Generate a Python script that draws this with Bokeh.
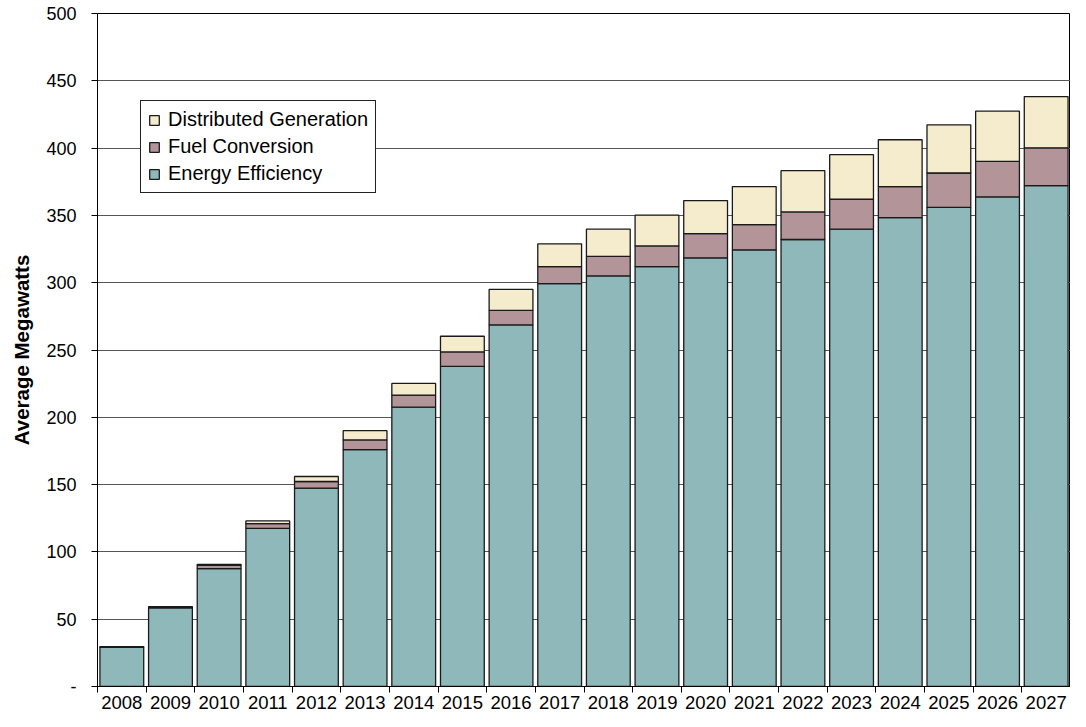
from bokeh.plotting import figure
from bokeh.models import (ColumnDataSource, FixedTicker, Range1d, Legend, LegendItem)
from bokeh.embed import file_html
from bokeh.resources import INLINE

years = [str(y) for y in range(2008, 2028)]
energy_efficiency = [29.0, 58.5, 87.6, 117.5, 147.4, 176.0, 207.5, 237.8, 268.6, 299.3,
                     305.0, 312.0, 318.5, 324.4, 332.1, 339.8, 348.4, 356.0, 363.7, 372.1]
fuel_conversion = [0.4, 0.5, 2.4, 3.5, 4.9, 7.2, 9.0, 10.8, 10.9, 12.6,
                   14.5, 15.3, 18.0, 18.8, 20.5, 22.2, 23.0, 25.5, 26.4, 28.1]
distributed_generation = [0.2, 0.3, 0.8, 2.0, 3.7, 6.9, 8.7, 11.6, 15.6, 17.0,
                          20.3, 22.9, 24.5, 28.2, 30.6, 33.1, 34.8, 35.8, 37.3, 38.1]
series_names = ["Energy Efficiency", "Fuel Conversion", "Distributed Generation"]
series_colors = ["#8FB8BA", "#B39498", "#F5EBCD"]
y_ticks = list(range(0, 501, 50))

n = len(years)
centers = [i + 0.5 for i in range(n)]
bounds = [float(i) for i in range(n + 1)]

source = ColumnDataSource(dict(
    x=centers,
    ee=energy_efficiency,
    fc=fuel_conversion,
    dg=distributed_generation,
))

FONT = "Liberation Sans"

p = figure(width=1070, height=711, output_backend="svg", toolbar_location=None,
           x_range=Range1d(0, n), y_range=Range1d(0, 500),
           min_border_left=97, min_border_right=0, min_border_top=13, min_border_bottom=0)
p.outline_line_color = "black"
p.outline_line_width = 1

renderers = p.vbar_stack(["ee", "fc", "dg"], x="x", width=0.9, source=source,
                         fill_color=series_colors, line_color="#1a1a1a", line_width=1.3)

# y axis
p.yaxis.ticker = FixedTicker(ticks=y_ticks)
p.yaxis.major_label_overrides = {0: "-"}
p.yaxis.axis_label = "Average Megawatts"
p.yaxis.axis_label_text_font = FONT
p.yaxis.axis_label_text_font_style = "bold"
p.yaxis.axis_label_text_font_size = "20.5px"
p.yaxis.axis_label_text_color = "black"
p.yaxis.axis_label_standoff = 10
p.yaxis.major_label_text_font = FONT
p.yaxis.major_label_text_font_size = "18px"
p.yaxis.major_label_text_color = "black"
p.yaxis.major_label_standoff = 15
p.yaxis.major_tick_out = 6
p.yaxis.major_tick_in = 0
p.yaxis.minor_tick_line_color = None
p.yaxis.axis_line_color = "black"
p.yaxis.major_tick_line_color = "black"

# x axis: labels at centers, tick marks at category boundaries
p.xaxis.ticker = FixedTicker(ticks=centers, minor_ticks=bounds)
p.xaxis.major_label_overrides = {c: y for c, y in zip(centers, years)}
p.xaxis.major_tick_line_color = None
p.xaxis.major_tick_out = 6
p.xaxis.major_tick_in = 0
p.xaxis.minor_tick_line_color = "black"
p.xaxis.minor_tick_out = 6
p.xaxis.minor_tick_in = 0
p.xaxis.major_label_standoff = 3
p.xaxis.major_label_text_font = FONT
p.xaxis.major_label_text_font_size = "18.5px"
p.xaxis.major_label_text_color = "black"
p.xaxis.axis_line_color = "black"

p.xgrid.grid_line_color = None
p.ygrid.grid_line_color = "#555555"
p.ygrid.grid_line_width = 1

legend = Legend(items=[
    LegendItem(label=series_names[2], renderers=[renderers[2]]),
    LegendItem(label=series_names[1], renderers=[renderers[1]]),
    LegendItem(label=series_names[0], renderers=[renderers[0]]),
], location=(43, 493))
legend.label_text_font = FONT
legend.label_text_font_size = "20px"
legend.label_text_color = "black"
legend.glyph_width = 12
legend.glyph_height = 12
legend.label_height = 20
legend.label_standoff = 8
legend.spacing = 4
legend.padding = 7
legend.margin = 0
legend.border_line_color = "#222222"
legend.border_line_alpha = 1
legend.border_line_width = 1
legend.background_fill_color = "white"
legend.background_fill_alpha = 1
p.add_layout(legend)

open("out.html", "w").write(file_html(p, INLINE))
